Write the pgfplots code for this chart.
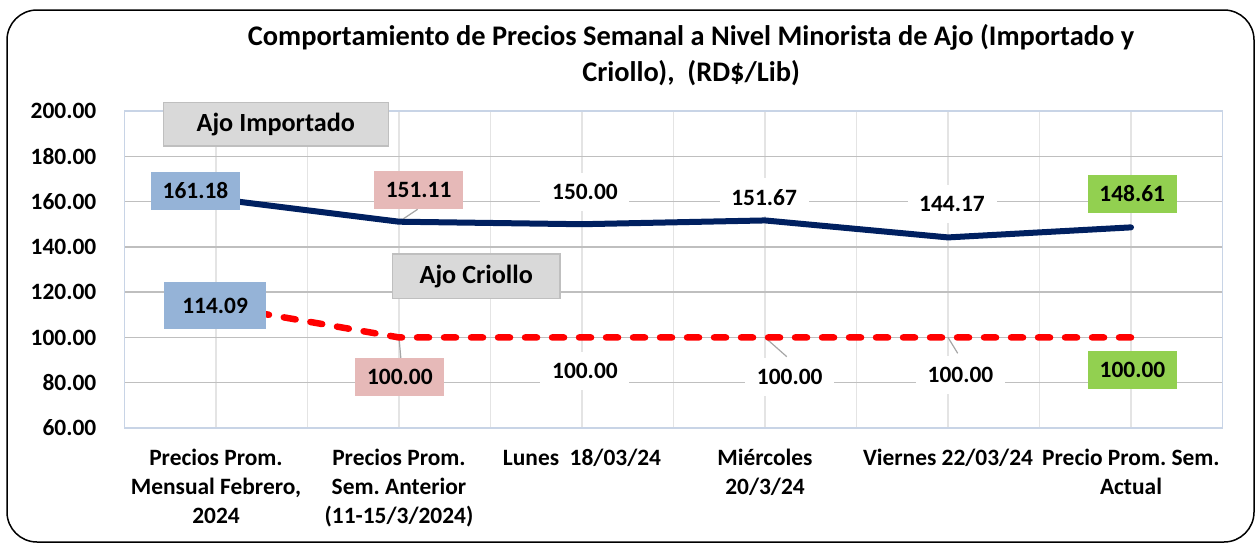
\documentclass[border=0pt]{standalone}
\usepackage{pgfplots}
\pgfplotsset{compat=1.18}
\usepackage{fontspec}
\setmainfont{Carlito}
\frenchspacing
\definecolor{navy}{RGB}{0,32,96}
\definecolor{boxblue}{RGB}{149,179,215}
\definecolor{boxpink}{RGB}{230,185,184}
\definecolor{boxgreen}{RGB}{146,208,80}
\definecolor{namefill}{RGB}{217,217,217}
\definecolor{nameborder}{RGB}{191,191,191}
\definecolor{ygrid}{RGB}{191,191,191}
\definecolor{xgrid}{RGB}{228,228,228}
\definecolor{axisline}{RGB}{200,212,230}
\definecolor{leader}{RGB}{166,166,166}
\newcommand{\lf}{\fontsize{23.5}{29}\selectfont\bfseries}
\begin{document}
\begin{tikzpicture}[
  lab/.style={font=\lf, minimum width=89bp, minimum height=38bp, inner sep=0pt},
  namebox/.style={font=\fontsize{26.3}{30}\selectfont\bfseries, fill=namefill, draw=nameborder, line width=1.5bp, inner sep=0pt}
]
\useasboundingbox (0,0) rectangle (1258bp,-544bp);
\draw[line width=1.5bp, rounded corners=30bp] (7bp,-10bp) rectangle (1254bp,-542bp);
\node[font=\fontsize{28.5}{34}\selectfont\bfseries, anchor=base] at (691bp,-45bp) {Comportamiento de Precios Semanal a Nivel Minorista de Ajo (Importado y};
\node[font=\fontsize{28.5}{34}\selectfont\bfseries, anchor=base] at (691bp,-81bp) {Criollo),\ \ (RD\$/Lib)};
\begin{axis}[
  at={(124.5bp,-428bp)}, anchor=south west,
  scale only axis, width=1098bp, height=317bp,
  xmin=-0.5, xmax=5.5, ymin=60, ymax=200,
  xtick={0,1,2,3,4,5},
  minor xtick={-0.5,0.5,1.5,2.5,3.5,4.5,5.5},
  ytick={60,80,100,120,140,160,180,200},
  xticklabels={
    {\strut Precios Prom.\\Mensual Febrero,\\2024},
    {\strut Precios Prom.\\Sem. Anterior\\(11-15/3/2024)},
    {\strut Lunes\ \ 18/03/24},
    {\strut Miércoles\\20/3/24},
    {\strut Viernes 22/03/24},
    {\strut Precio Prom. Sem.\\Actual}},
  xmajorgrids, xminorgrids, ymajorgrids,
  major x grid style={color=xgrid, line width=1.5bp},
  minor x grid style={color=xgrid, line width=1.5bp},
  major y grid style={color=ygrid, line width=1.5bp},
  major tick length=0pt, minor tick length=0pt,
  axis line style={color=axisline, line width=1.5bp},
  tick label style={font=\lf},
  xticklabel style={align=center, anchor=north, inner sep=0pt, yshift=-17bp},
  yticklabel style={anchor=east, inner sep=0pt, xshift=-28bp},
  /pgf/number format/fixed, /pgf/number format/fixed zerofill,
  /pgf/number format/precision=2, /pgf/number format/assume math mode=true,
  clip=false,
]
% leader lines
\draw[leader, line width=1.2bp] (axis cs:1,151.11) -- (axis cs:1.102,156.6);
\draw[leader, line width=1.2bp] (axis cs:1,100) -- (axis cs:1.01,90.9);
\draw[leader, line width=1.2bp] (axis cs:3,100) -- (axis cs:3.119,91.5);
\draw[leader, line width=1.2bp] (axis cs:4,100) -- (axis cs:4.053,93);
% series
\addplot[navy, line width=6bp, line cap=round, line join=round] coordinates {
  (0,161.18) (1,151.11) (2,150.00) (3,151.67) (4,144.17) (5,148.61)};
\addplot[red, line width=6.5bp, line cap=round, dash pattern=on 12bp off 15bp, dash phase=12.2bp] coordinates {
  (0,114.09) (1,100) (2,100) (3,100) (4,100) (5,100)};
% data labels Importado
\node[lab, fill=boxblue] at (axis cs:-0.112,164.67) {161.18};
\node[lab, fill=boxpink] at (axis cs:1.107,165.33) {151.11};
\node[lab, fill=white] at (axis cs:2.016,164.36) {150.00};
\node[lab, fill=white] at (axis cs:2.995,161.9) {151.67};
\node[lab, fill=white] at (axis cs:4.022,158.8) {144.17};
\node[lab, fill=boxgreen] at (axis cs:5.007,163.4) {148.61};
% data labels Criollo
\node[lab, fill=boxblue, minimum width=102bp, minimum height=47bp] at (axis cs:-0.005,113.9) {114.09};
\node[lab, fill=boxpink] at (axis cs:1.005,82.5) {100.00};
\node[lab, fill=white] at (axis cs:2.016,85.3) {100.00};
\node[lab, fill=white] at (axis cs:3.135,82.4) {100.00};
\node[lab, fill=white] at (axis cs:4.068,83.4) {100.00};
\node[lab, fill=boxgreen] at (axis cs:5.008,85.6) {100.00};
\end{axis}
\node[namebox, minimum width=225bp, minimum height=43.3bp] at (275.8bp,-124.35bp) {Ajo Importado};
\node[namebox, minimum width=167.3bp, minimum height=44.3bp] at (476.3bp,-276.2bp) {Ajo Criollo};
\end{tikzpicture}
\end{document}
